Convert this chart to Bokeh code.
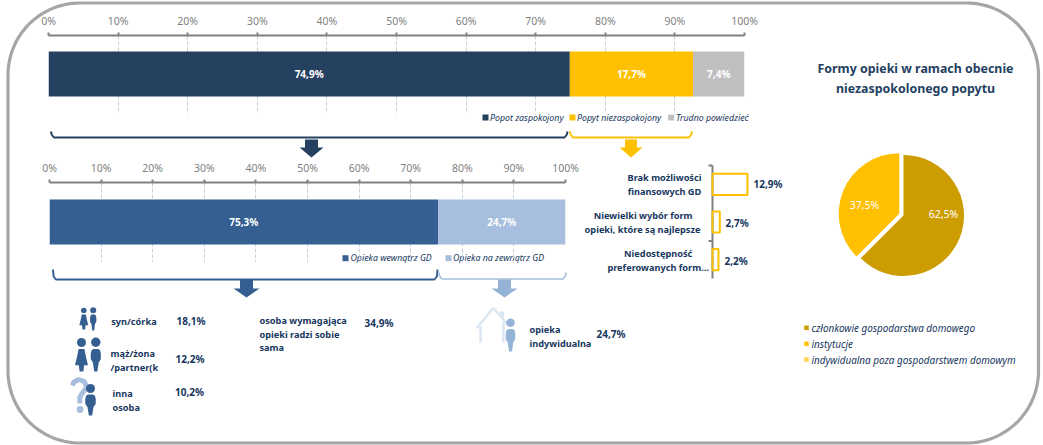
import numpy as np
from bokeh.plotting import figure
from bokeh.models import Range1d, FactorRange, FixedTicker
from bokeh.core.properties import value
from bokeh.embed import file_html
from bokeh.resources import INLINE

# ---- data ----
tick_values = [0, 10, 20, 30, 40, 50, 60, 70, 80, 90, 100]
tick_labels = ["0%", "10%", "20%", "30%", "40%", "50%", "60%", "70%", "80%", "90%", "100%"]

demand_names = ["Popot zaspokojony", "Popyt niezaspokojony", "Trudno powiedzieć"]
demand_values = [74.9, 17.7, 7.4]
demand_colors = ["#264060", "#FFC000", "#BFBFBF"]

care_names = ["Opieka wewnątrz GD", "Opieka na zewnątrz GD"]
care_values = [75.3, 24.7]
care_colors = ["#365F91", "#A7BEDE"]

reason_names = ["Brak możliwości finansowych GD",
                "Niewielki wybór form opieki, które są najlepsze",
                "Niedostępność preferowanych form opieki"]
reason_values = [12.9, 2.7, 2.2]

form_names = ["członkowie gospodarstwa domowego", "instytucje",
              "indywidualna poza gospodarstwem domowym"]
form_values = [62.5, 37.5, 0.0]
form_colors = ["#CC9C00", "#FFC000", "#FFD34F"]

FONT = "Noto Sans"
NAVY = "#17375E"
GOLD = "#FFC000"


def pct(v):
    return f"{v:.1f}%".replace(".", ",")


def place(fig, left, top):
    fig.styles = {"position": "absolute", "left": f"{left}px", "top": f"{top}px"}


def overlay(width, height, x_range, y_range, **kw):
    f = figure(width=width, height=height, x_range=x_range, y_range=y_range,
               output_backend="svg", toolbar_location=None,
               background_fill_color=None, border_fill_color=None,
               outline_line_color=None, min_border=0, **kw)
    return f


# ---- background canvas with frame, brackets, arrows, notes ----
bg = figure(width=1043, height=445, x_range=Range1d(0, 1043), y_range=Range1d(445, 0),
            output_backend="svg", toolbar_location=None, min_border=0,
            x_axis_location=None, y_axis_location=None,
            background_fill_color="white", border_fill_color="white", outline_line_color=None)
bg.grid.visible = False


def txt(x, y, s, size="10.5px", color=NAVY, style="bold", align="left", target=None):
    (target or bg).text(x=[x], y=[y], text=[s], text_font=value(FONT), text_font_size=size,
                        text_color=color, text_font_style=style, text_align=align,
                        text_baseline="middle")


def rounded_frame(x0, y0, x1, y1, r):
    xs, ys = [], []
    for cx, cy, a0 in [(x0 + r, y0 + r, 180), (x1 - r, y0 + r, 270),
                       (x1 - r, y1 - r, 0), (x0 + r, y1 - r, 90)]:
        t = np.radians(np.linspace(a0, a0 + 90, 30))
        xs += list(cx + r * np.cos(t))
        ys += list(cy + r * np.sin(t))
    xs.append(xs[0])
    ys.append(ys[0])
    bg.line(xs, ys, line_color="#A6A6A6", line_width=3.2)


rounded_frame(7.5, 2.5, 1038, 442.5, 72)


def bracket(x0, x1, y0, y1, color, w=2):
    bg.line([x0, x0 + 0.6, x0 + 3, x1 - 3, x1 - 0.6, x1],
            [y0, y1 - 3, y1, y1, y1 - 3, y0], line_color=color, line_width=w)


def arrow(cx, top, neck, tip, shaft, head, color):
    bg.patch([cx - shaft, cx + shaft, cx + shaft, cx + head, cx, cx - head, cx - shaft],
             [top, top, neck, neck, tip, neck, neck], color=color, line_width=0)


bracket(50.5, 567, 131, 137, "#264060")
bracket(569.5, 691.5, 131, 137, GOLD)
arrow(311, 139, 147, 157, 6.5, 12, "#264060")
arrow(630.5, 139, 147, 157, 6, 11.5, GOLD)

bracket(52.5, 437, 269, 279, "#365F91")
bracket(438.5, 565.5, 272, 278.5, "#A7BEDE", 1.6)
arrow(246, 279, 288, 297, 6.5, 13, "#365F91")
arrow(504, 279, 288, 297, 6.5, 13, "#95B3D7")

# legends over the bars
for sx, tx, name, col in zip([482, 569, 667.7], [489.5, 576.5, 675.5], demand_names, demand_colors):
    bg.rect([sx + 3], [117], width=6, height=6, color=col, line_width=0)
    txt(tx, 117, name, "8.8px", NAVY, "italic")
for sx, tx, name, col in zip([342, 445], [350, 452.5], care_names, care_colors):
    bg.rect([sx + 3], [257.7], width=6, height=6, color=col, line_width=0)
    txt(tx, 257.7, name, "8.8px", NAVY, "italic")

# axis of the reasons list
bg.segment([712, 708, 708], [165, 165, 240.5], [712, 712, 712], [278, 165, 240.5],
           line_color="#808080", line_width=2)
for cx, y, s in [(664, 176.7, "Brak możliwości"), (664, 190.7, "finansowych GD"),
                 (642.7, 214.5, "Niewielki wybór form"), (642, 229, "opieki, które są najlepsze"),
                 (657.7, 252.5, "Niedostępność"), (657.7, 266.7, "preferowanych form…")]:
    txt(cx, y, s, "9.2px", align="center")
for x, y, v in zip([753, 725, 724], [183.5, 222, 260], reason_values):
    txt(x, y, pct(v), "10px")

# lower notes
labels = [(110.7, 320.7, "syn/córka"), (110, 352.7, "mąż/żona"), (110, 367, "/partner(k"),
          (112, 392.7, "inna"), (112, 406.7, "osoba"),
          (259, 319.7, "osoba wymagająca"), (259, 334, "opieki radzi sobie"), (259, 347, "sama"),
          (529, 328.7, "opieka"), (529, 342.7, "indywidualna")]
shares = [(176, 320.5, "18,1%"), (175, 358.7, "12,2%"), (174.5, 391.7, "10,2%"),
          (364, 322.3, "34,9%"), (596, 333.7, "24,7%")]
for x, y, s in labels:
    txt(x, y, s, "9.2px")
for x, y, s in shares:
    txt(x, y, s, "10px")


def man(cx, head_y, r, top, bottom, w, color="#365F91"):
    bg.circle([cx], [head_y], radius=r, color=color, line_width=0)
    bg.patch([cx - w * 0.8, cx - w * 0.45, cx + w * 0.45, cx + w * 0.8, cx + w * 0.95, cx + w * 0.95,
              cx + w * 0.55, cx + w * 0.3, cx - w * 0.3, cx - w * 0.55, cx - w * 0.95, cx - w * 0.95],
             [top + (bottom - top) * 0.06, top, top, top + (bottom - top) * 0.06,
              top + (bottom - top) * 0.2, top + (bottom - top) * 0.45,
              top + (bottom - top) * 0.6, bottom, bottom, top + (bottom - top) * 0.6,
              top + (bottom - top) * 0.45, top + (bottom - top) * 0.2],
             color=color, line_width=0)


def woman(cx, head_y, r, top, bottom, w, color="#365F91"):
    bg.circle([cx], [head_y], radius=r, color=color, line_width=0)
    h = bottom - top
    bg.patch([cx - w * 0.45, cx + w * 0.45, cx + w * 0.65, cx + w, cx + w * 0.4, cx + w * 0.3,
              cx - w * 0.3, cx - w * 0.4, cx - w, cx - w * 0.65],
             [top, top, top + h * 0.3, top + h * 0.72, top + h * 0.72, bottom,
              bottom, top + h * 0.72, top + h * 0.72, top + h * 0.3],
             color=color, line_width=0)


woman(83.3, 310, 2.8, 314, 329, 4.5)
man(92.7, 309.7, 3, 314, 330, 3.3)
woman(81, 342, 4.5, 348.5, 371, 6.5)
man(95.3, 341.7, 4.7, 348.5, 371, 5.3)

bg.line([72, 73, 78, 84, 86, 81.5, 79.3, 79.3], [385, 382, 379, 381, 387, 393, 397, 403],
        line_color="#A7BEDE", line_width=5)
bg.circle([79.5], [409], radius=3.4, color="#A7BEDE", line_width=0)
man(90, 388, 4.5, 394, 415, 5.5)

bg.line([476, 492.7, 508], [328, 307.5, 325], line_color="#DCE6F2", line_width=2.5)
bg.segment([480, 503], [326, 322], [480, 503], [342, 342], line_color="#DCE6F2", line_width=2.5)
bg.patch([499, 503.5, 503.5, 499], [311, 311, 320, 316], color="#DCE6F2", line_width=0)
man(510, 322.3, 4.3, 328.5, 351, 5, "#95B3D7")

# right-hand title and pie legend
for y, s in [(68, "Formy opieki w ramach obecnie"), (88, "niezaspokolonego popytu")]:
    txt(915, y, s, "12.4px", "#243F60", "bold", "center")
for y, name, col in zip([327.3, 343.3, 359], form_names, form_colors):
    bg.rect([806], [y], width=4.5, height=4.5, color=col, line_width=0)
    txt(811, y, name, "9.9px", NAVY, "italic")


# ---- stacked bars on their own percent axes ----
def stacked_bar(names, values, colors, frame_w, frame_h, bar_top, bar_bottom):
    f = overlay(frame_w + 60, frame_h + 36, Range1d(0, 100),
                Range1d(frame_h, 0), x_axis_location="above", y_axis_location=None)
    f.min_border_left = 30
    f.min_border_right = 30
    f.min_border_top = 35
    f.min_border_bottom = 1
    ax = f.xaxis[0]
    ax.ticker = FixedTicker(ticks=tick_values)
    ax.major_label_overrides = dict(zip(tick_values, tick_labels))
    ax.major_label_text_font = FONT
    ax.major_label_text_font_size = "10.5px"
    ax.major_label_text_color = "#7F7F7F"
    ax.major_label_standoff = 5
    ax.major_tick_in = 0
    ax.major_tick_out = 3
    ax.minor_tick_line_color = None
    ax.axis_line_color = "#808080"
    ax.axis_line_width = 2
    ax.major_tick_line_color = "#808080"
    ax.major_tick_line_width = 2
    f.xgrid.grid_line_color = "#C9CFDC"
    f.xgrid.grid_line_dash = "4 2"
    f.ygrid.visible = False
    right = np.cumsum(values)
    left = right - np.array(values)
    mid = (bar_top + bar_bottom) / 2
    f.hbar(y=[mid] * len(values), left=left, right=right, height=bar_bottom - bar_top,
           color=colors, line_width=0)
    f.text(x=(left + right) / 2, y=[mid] * len(values), text=[pct(v) for v in values],
           text_font=value(FONT), text_font_size="10px", text_font_style="bold",
           text_color="white", text_align="center", text_baseline="middle")
    return f


top_bar = stacked_bar(demand_names, demand_values, demand_colors, 696, 79, 16, 61)
place(top_bar, 18, 0)
care_bar = stacked_bar(care_names, care_values, care_colors, 516, 80, 17, 62)
place(care_bar, 19, 147)

# ---- reasons: outlined bars ----
PX_PER_UNIT = 2.71
rf = overlay(100, 113, Range1d(-2 / PX_PER_UNIT, 98 / PX_PER_UNIT),
             FactorRange(factors=reason_names[::-1], range_padding=0),
             x_axis_location=None, y_axis_location=None)
rf.grid.visible = False
rf.hbar(y=reason_names, left=0, right=reason_values, height=0.56,
        fill_color=None, line_color=GOLD, line_width=2)
place(rf, 710, 165)

# ---- pie ----
pie = overlay(160, 160, Range1d(-80, 80), Range1d(-80, 80),
              x_axis_location=None, y_axis_location=None)
pie.grid.visible = False
total = sum(form_values)
start = np.pi / 2
for i, (v, c) in enumerate(zip(form_values, form_colors)):
    if v == 0:
        continue
    sweep = 2 * np.pi * v / total
    end = start - sweep
    mid = (start + end) / 2
    off = 4.6 if i == 1 else 0
    pie.wedge(x=[off * np.cos(mid)], y=[off * np.sin(mid)], radius=60.5, start_angle=end, end_angle=start,
              color=c, line_width=0)
    start = end
for x, y, v in zip([40, -39], [2, 11], form_values):
    pie.text(x=[x], y=[y], text=[pct(v)], text_font=value(FONT), text_font_size="10.5px",
             text_color="white", text_align="center", text_baseline="middle")
place(pie, 823, 135)

place(bg, 0, 0)
p = [bg, top_bar, care_bar, rf, pie]

open("out.html", "w").write(file_html(p, INLINE))
